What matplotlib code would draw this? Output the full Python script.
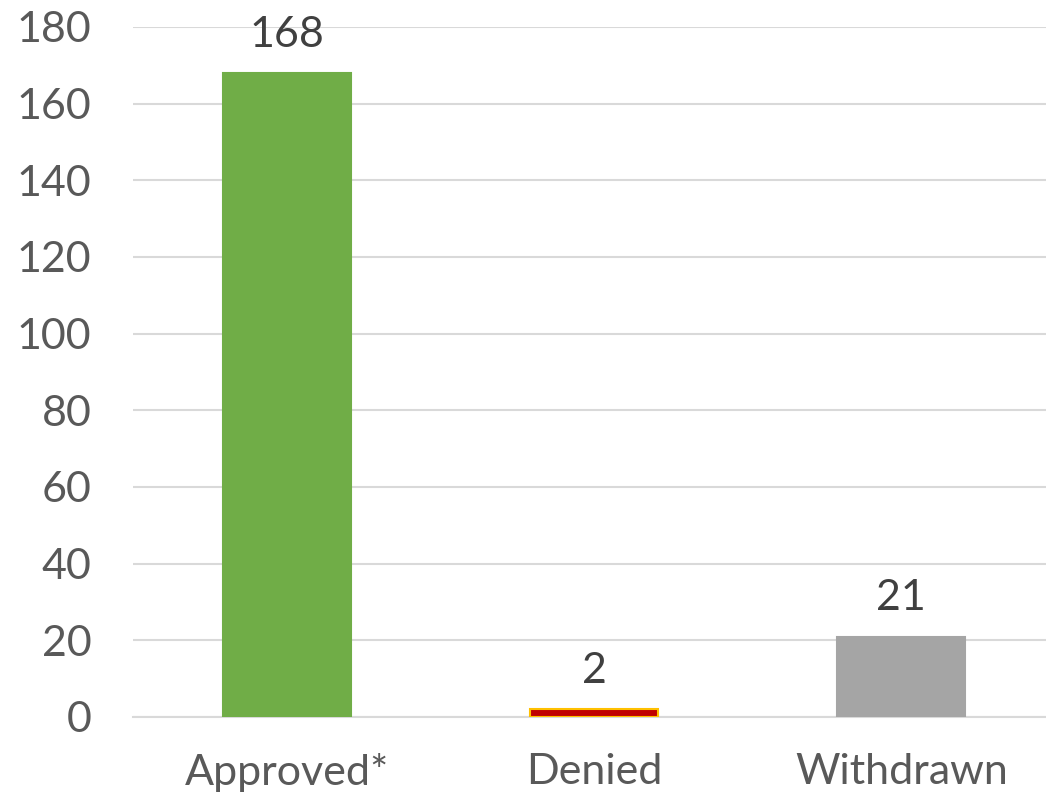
import matplotlib
matplotlib.use("Agg")
import matplotlib.pyplot as plt

categories = ["Approved*", "Denied", "Withdrawn"]
values = [168, 2, 21]
colors = ["#70AD47", "#C00000", "#A5A5A5"]
edges = ["#70AD47", "#FFC000", "#A5A5A5"]
yticks = list(range(0, 181, 20))

plt.rcParams['font.family'] = ['Lato', 'DejaVu Sans']

fig = plt.figure(figsize=(10.46, 7.95), dpi=100)
ax = fig.add_axes([133/1046, 78/795, 922/1046, 690/795])
x = range(len(categories))
bars = ax.bar(x, values, width=0.416, color=colors, edgecolor=edges, linewidth=1.5, zorder=3)
for xi, v in zip(x, values):
    ax.annotate(str(v), (xi, v), xytext=(0, 14), textcoords="offset points",
                ha="center", va="bottom", fontsize=31, color="#404040")
ax.set_xlim(-0.5, 2.5)
ax.set_ylim(0, 180)
ax.set_yticks(yticks)
ax.set_xticks(list(x))
ax.set_xticklabels(categories)
ax.yaxis.grid(True, color="#D9D9D9", linewidth=1.5, zorder=0)
for s in ["top", "right", "left"]:
    ax.spines[s].set_visible(False)
ax.spines["bottom"].set_color("#D9D9D9")
ax.spines["bottom"].set_linewidth(1.5)
ax.tick_params(axis="both", length=0, labelsize=31, colors="#595959")
ax.tick_params(axis="y", pad=30)
ax.tick_params(axis="x", pad=26)
fig.savefig("out.png", dpi=100)
